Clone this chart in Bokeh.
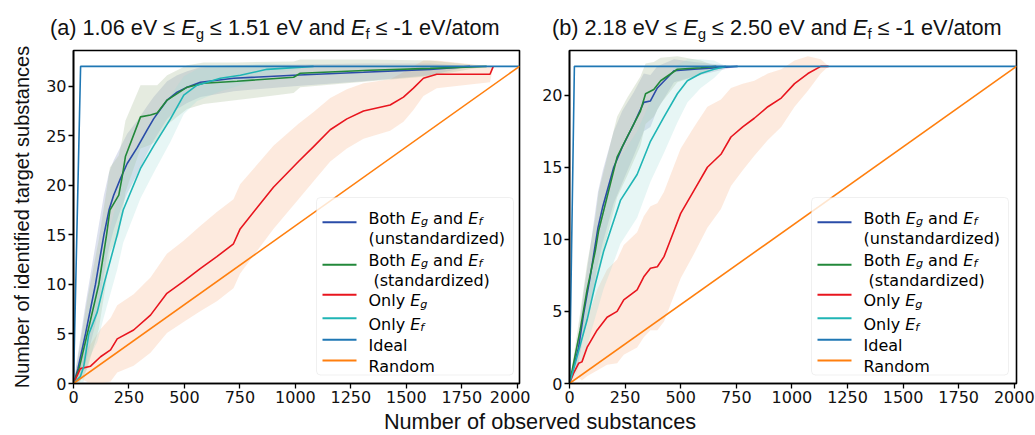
import numpy as np
from bokeh.plotting import figure
from bokeh.models import Label, Arrow, BoxAnnotation, FixedTicker, Range1d, Div
from bokeh.layouts import row, column
from bokeh.embed import file_html
from bokeh.resources import INLINE

N_TOTAL = 2010
X_TICKS = [0, 250, 500, 750, 1000, 1250, 1500, 1750, 2000]

# ---------------- panel (a): 32 targets ----------------
A_TARGETS = 32
a_unstd_x = [0, 20, 54, 99, 137, 160, 181, 212, 242, 287, 332, 361, 422, 467, 512, 572, 722, 992, 1307, 1607, 1787]
a_unstd_y = [0, 1.5, 5, 10, 15, 17.5, 19, 20.7, 22.2, 23.8, 25.6, 26.7, 28.6, 29.4, 29.9, 30.4, 30.8, 31.1, 31.4, 31.7, 32]
a_unstd_s = [0, 1.5, 3, 4, 4, 3.8, 3.5, 3.2, 3, 2.7, 2.4, 2.2, 1.9, 1.7, 1.6, 1.5, 1.3, 1.1, 0.9, 0.6, 0]

a_std_x = [0, 25, 62, 114, 149, 164, 204, 219, 234, 302, 347, 377, 422, 512, 587, 737, 992, 1022, 1337, 1607, 1862]
a_std_y = [0, 1.5, 5, 10, 15, 17.5, 19, 20.8, 22.9, 26.9, 27.1, 27.3, 28.6, 29.9, 30.3, 30.5, 30.9, 31.3, 31.6, 31.8, 32]
a_std_s = [0, 1.8, 3.5, 4.5, 4.5, 4.3, 4, 3.8, 3.6, 3.2, 3, 2.8, 2.5, 2.2, 2.1, 1.9, 1.6, 1.4, 1.1, 0.8, 0]

a_ef_x = [0, 31, 46, 69, 107, 137, 197, 224, 302, 362, 437, 497, 557, 662, 752, 872, 1082]
a_ef_y = [0, 0.7, 1.7, 5, 7.2, 10, 15, 17.5, 21.7, 24, 26.7, 29.1, 30.1, 30.8, 31.1, 31.7, 32]
a_ef_s = [0, 1, 1.5, 2.5, 3, 3.3, 3.5, 3.3, 3, 2.7, 2.3, 1.9, 1.6, 1.3, 1.0, 0.6, 0]

a_eg_x = [0, 31, 77, 122, 167, 197, 271, 347, 421, 496, 571, 646, 721, 751, 901, 1014, 1082, 1157, 1232, 1307, 1427, 1487, 1532, 1577, 1637, 1877, 1892]
a_eg_y = [0, 1.5, 1.75, 2.7, 3.4, 4.5, 5.4, 6.9, 9.1, 10.3, 11.6, 12.8, 14.1, 15.6, 19.8, 22.4, 23.9, 25.6, 26.7, 27.5, 28.1, 28.9, 29.8, 30.8, 31.2, 31.2, 32]
a_eg_s = [0, 1, 2.2, 2.8, 3.2, 3.4, 3.6, 3.8, 4, 4.1, 4.3, 4.5, 4.5, 4.5, 4.2, 3.8, 3.5, 3.2, 3, 2.8, 2.6, 2.5, 2.2, 1.8, 1.4, 0.8, 0]

# ---------------- panel (b): 22 targets ----------------
B_TARGETS = 22
b_unstd_x = [0, 41, 63, 93, 128, 150, 199, 237, 289, 334, 364, 395, 470, 560, 756]
b_unstd_y = [0, 2.5, 4.8, 7.4, 10.8, 12.3, 15.0, 16.4, 18.0, 19.5, 19.6, 20.5, 21.7, 21.8, 22]
b_unstd_s = [0, 1, 1.5, 2, 2.5, 2.5, 2.5, 2.5, 2.2, 2, 1.8, 1.5, 0.8, 0.5, 0]

b_std_x = [0, 48, 79, 116, 131, 214, 259, 319, 342, 379, 410, 485, 590, 660]
b_std_y = [0, 3.7, 6.5, 9.2, 10.6, 15.7, 17.1, 18.9, 20.1, 20.4, 21.0, 21.8, 21.9, 22]
b_std_s = [0, 1.2, 1.8, 2.3, 2.7, 2.8, 2.7, 2.4, 2.1, 1.9, 1.6, 0.9, 0.5, 0]

b_ef_x = [0, 33, 79, 116, 154, 184, 229, 304, 364, 425, 485, 530, 590, 650, 703]
b_ef_y = [0, 1.8, 4.4, 6.9, 9.2, 10.6, 12.7, 14.5, 16.8, 18.5, 20.1, 21.0, 21.5, 21.8, 22]
b_ef_s = [0, 1, 1.8, 2.3, 2.6, 2.8, 3, 3, 2.8, 2.5, 2, 1.5, 1, 0.6, 0]

b_eg_x = [0, 18, 41, 56, 79, 124, 169, 214, 244, 304, 334, 364, 395, 425, 470, 500, 560, 620, 681, 726, 779, 831, 892, 952, 1012, 1072, 1130, 1165]
b_eg_y = [0, 0.7, 1.4, 1.5, 2.5, 3.7, 4.6, 5.0, 5.8, 6.5, 7.4, 8.0, 8.1, 8.8, 10.6, 11.8, 13.4, 15.0, 15.9, 17.1, 17.8, 18.4, 19.2, 19.8, 20.8, 21.5, 22, 22]
b_eg_s = [0, 0.5, 1.0, 1.3, 2.0, 2.8, 3.3, 3.6, 3.8, 4.0, 4.2, 4.3, 4.4, 4.5, 4.5, 4.5, 4.4, 4.2, 3.8, 3.4, 3.0, 2.6, 2.3, 2.0, 1.6, 1.2, 0.5, 0]

TITLE_A = ("(a) 1.06 eV \u2264 ", " \u2264 1.51 eV and ", " \u2264 -1 eV/atom")
TITLE_B = ("(b) 2.18 eV \u2264 ", " \u2264 2.50 eV and ", " \u2264 -1 eV/atom")
X_LABEL = "Number of observed substances"
Y_LABEL = "Number of identified target substances"

LEG_BOTH = [("Both ", "n"), ("E", "i"), ("g", "si"), (" and ", "n"), ("E", "i"), ("f", "si")]
LEG_UNSTD = "(unstandardized)"
LEG_STD = "(standardized)"
LEG_EG = [("Only ", "n"), ("E", "i"), ("g", "si")]
LEG_EF = [("Only ", "n"), ("E", "i"), ("f", "si")]
LEG_IDEAL = "Ideal"
LEG_RANDOM = "Random"

C_UNSTD = "#2a4ca8"
C_STD = "#22883a"
C_EG = "#e8151e"
C_EF = "#1fb5b5"
C_IDEAL = "#1f77b4"
C_RANDOM = "#ff7f0e"

DEJAVU = {'B': .686, 'o': .612, 't': .392, 'h': .634, ' ': .318, 'E': .632, 'g': .635, 'a': .613,
          'n': .634, 'd': .635, 'f': .352, 'O': .787, 'l': .278, 'y': .592}

TOP_H = 44        # height of the title strip
FH = 369          # figure height
FT, FB = 6, 30    # top / bottom borders of the figures


def tw(txt, table, size):
    return sum(table.get(c, .556) for c in txt) * size


def plabel(p, ox, fl, px, py, text, size, style="normal"):
    """label placed by page coordinates (px, py); figure starts at (ox, TOP_H)"""
    fb = FH - FB
    cy = py - TOP_H
    p.add_layout(Label(x=px - ox - fl, y=fb - cy, x_units="screen", y_units="screen", text=text,
                       text_font="DejaVu Sans", text_font_size=f"{size:.1f}px", text_font_style=style,
                       text_align="left", text_baseline="alphabetic", text_color="black"))


def rich(p, ox, fl, x0, base, segs, size, sub_shift=3.5):
    x = x0
    for txt, kind in segs:
        sz = size * 0.7 if kind.startswith("s") else size
        y = base + (sub_shift if kind.startswith("s") else 0)
        style = "italic" if ("i" in kind) else "normal"
        lead = len(txt) - len(txt.lstrip(" "))
        body = txt.strip(" ")
        if body:
            plabel(p, ox, fl, x + tw(" " * lead, DEJAVU, sz), y, body, sz, style)
        x += tw(txt, DEJAVU, sz)


def make_panel(ox, width, fl, fr, targets, yticks, series, leg_x, ylabel):
    p = figure(width=width, height=FH, x_range=Range1d(0, N_TOTAL), y_range=Range1d(0, targets * 1.05),
               output_backend="svg", toolbar_location=None, min_border_left=fl, min_border_right=fr,
               min_border_top=FT, min_border_bottom=FB)
    p.xgrid.visible = False
    p.ygrid.visible = False
    p.outline_line_color = "black"
    p.outline_line_width = 1.6
    p.background_fill_color = "white"
    p.border_fill_color = "white"
    p.xaxis.ticker = FixedTicker(ticks=X_TICKS)
    p.yaxis.ticker = FixedTicker(ticks=yticks)
    for ax in (p.xaxis[0], p.yaxis[0]):
        ax.axis_line_color = "black"
        ax.axis_line_width = 1.6
        ax.major_tick_out = 5
        ax.major_tick_in = 0
        ax.major_tick_line_width = 1.3
        ax.minor_tick_line_color = None
        ax.major_label_text_font = "DejaVu Sans"
        ax.major_label_text_font_size = "16px"
        ax.major_label_text_color = "#111111"
        ax.major_label_standoff = 2
    if ylabel:
        p.yaxis.axis_label = ylabel
        p.yaxis.axis_label_text_font = "Liberation Sans"
        p.yaxis.axis_label_text_font_size = "20px"
        p.yaxis.axis_label_text_font_style = "normal"
        p.yaxis.axis_label_text_color = "#111111"
        p.yaxis.axis_label_standoff = 10

    fills = {C_UNSTD: ("#8e9cc8", 0.30), C_STD: ("#a9bc98", 0.30), C_EF: ("#9fdcd6", 0.25), C_EG: ("#f7b38a", 0.28)}
    for i in [2, 0, 1, 3]:
        xs, ys, ss, col = series[i]
        y = np.array(ys, float)
        s = np.array(ss, float)
        fc, fa = fills[col]
        p.varea(x=xs, y1=np.clip(y - s, 0, None), y2=y + s, fill_color=fc, fill_alpha=fa)
    for xs, ys, ss, col in series:
        p.line(xs, ys, line_color=col, line_width=1.6)
    p.line([0, targets, N_TOTAL], [0, targets, targets], line_color=C_IDEAL, line_width=1.6)
    p.line([0, N_TOTAL], [0, targets], line_color=C_RANDOM, line_width=1.6)

    # legend (page coordinates)
    fb = FH - FB
    lx0, lx1, ly0, ly1 = leg_x - 52, leg_x + 145, 197, 374.5
    p.add_layout(BoxAnnotation(left=lx0 - ox - fl, right=lx1 - ox - fl,
                               top=fb - (ly0 - TOP_H), bottom=fb - (ly1 - TOP_H),
                               left_units="screen", right_units="screen", top_units="screen",
                               bottom_units="screen", fill_color="white", fill_alpha=0.8,
                               line_color="#cccccc", line_width=1, border_radius=4))
    handles = [(221.7, C_UNSTD), (264.3, C_STD), (294.3, C_EG), (317.7, C_EF), (339.3, C_IDEAL), (360, C_RANDOM)]
    for hy, col in handles:
        y = fb - (hy - TOP_H)
        p.add_layout(Arrow(end=None, x_start=leg_x - 46 - ox - fl, x_end=leg_x - 12 - ox - fl,
                           y_start=y, y_end=y, start_units="screen", end_units="screen",
                           line_color=col, line_width=2))
    fsz = 16
    rich(p, ox, fl, leg_x, 217.5, LEG_BOTH, fsz)
    plabel(p, ox, fl, leg_x, 237.5, LEG_UNSTD, fsz)
    rich(p, ox, fl, leg_x, 259.5, LEG_BOTH, fsz)
    plabel(p, ox, fl, leg_x + 5, 280, LEG_STD, fsz)
    rich(p, ox, fl, leg_x, 300, LEG_EG, fsz)
    rich(p, ox, fl, leg_x, 323.5, LEG_EF, fsz)
    plabel(p, ox, fl, leg_x, 345, LEG_IDEAL, fsz)
    plabel(p, ox, fl, leg_x, 366, LEG_RANDOM, fsz)
    return p


def title_div(parts, width, pad_left):
    sub = '<span style="font-size:15px;position:relative;top:4px;">{}</span>'
    html = (f'<div style="width:{width}px;box-sizing:border-box;padding-left:{pad_left}px;padding-top:20px;'
            f'font-family:\'Liberation Sans\';font-size:21.7px;line-height:16px;color:#111;white-space:pre;">'
            f'{parts[0]}<i>E</i>{sub.format("g")}{parts[1]}<i>E</i>{sub.format("f")}{parts[2]}</div>')
    return Div(text=html, width=width, height=TOP_H, margin=0)


series_a = [(a_unstd_x, a_unstd_y, a_unstd_s, C_UNSTD), (a_std_x, a_std_y, a_std_s, C_STD),
            (a_eg_x, a_eg_y, a_eg_s, C_EG), (a_ef_x, a_ef_y, a_ef_s, C_EF)]
series_b = [(b_unstd_x, b_unstd_y, b_unstd_s, C_UNSTD), (b_std_x, b_std_y, b_std_s, C_STD),
            (b_eg_x, b_eg_y, b_eg_s, C_EG), (b_ef_x, b_ef_y, b_ef_s, C_EF)]

W1, W2 = 530, 505
p1 = make_panel(0, W1, 73, 11, A_TARGETS, [0, 5, 10, 15, 20, 25, 30], series_a, 368, Y_LABEL)
p2 = make_panel(W1, W2, 39, 19, B_TARGETS, [0, 5, 10, 15, 20], series_b, 863, None)

t1 = title_div(TITLE_A, W1, 50)
t2 = title_div(TITLE_B, W2, 22)

xlabel = Div(text='<div style="width:1035px;box-sizing:border-box;padding-left:45px;padding-top:2px;'
                  'text-align:center;font-family:\'Liberation Sans\';font-size:21.7px;line-height:14px;'
                  f'color:#111;white-space:nowrap;">{X_LABEL}</div>',
             width=1035, height=22, margin=0)

layout = column(row(t1, t2), row(p1, p2), xlabel)
open("out.html", "w").write(file_html(layout, INLINE))
